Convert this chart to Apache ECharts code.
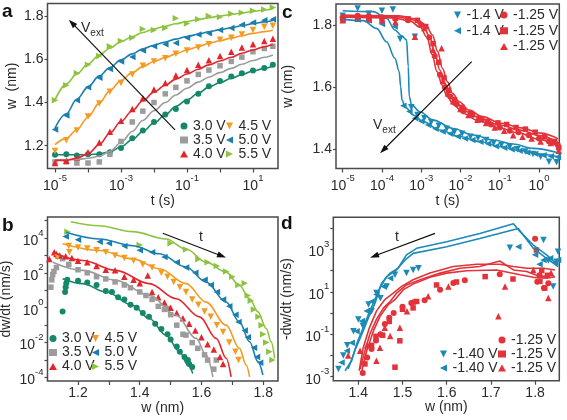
<!DOCTYPE html>
<html><head><meta charset="utf-8">
<script src="https://cdn.jsdelivr.net/npm/echarts@6/dist/echarts.min.js"></script>
<style>html,body{margin:0;padding:0;background:#fff}#c{width:567px;height:420px}</style>
</head><body><div id="c"></div><script>
// ---------------- Panel a : w vs t (growth) ----------------
const A_T = [1e-5,2.2e-5,4.6e-5,1e-4,2.2e-4,4.6e-4,1e-3,2.2e-3,4.6e-3,0.01,0.022,0.046,0.1,0.22,0.46,1,2.2,4.6,10,22,40];
const A_FIT_30 = [1.158,1.158,1.158,1.159,1.162,1.172,1.195,1.228,1.266,1.305,1.343,1.382,1.412,1.443,1.471,1.492,1.512,1.529,1.546,1.558,1.569];
const A_FIT_35 = [1.135,1.135,1.136,1.142,1.151,1.174,1.215,1.266,1.317,1.362,1.4,1.435,1.466,1.494,1.517,1.538,1.558,1.577,1.594,1.609,1.62];
const A_FIT_40 = [1.132,1.132,1.142,1.163,1.205,1.258,1.312,1.362,1.408,1.448,1.48,1.508,1.532,1.554,1.574,1.592,1.609,1.628,1.643,1.658,1.669];
const A_FIT_45 = [1.205,1.234,1.274,1.332,1.397,1.455,1.502,1.538,1.566,1.59,1.608,1.625,1.643,1.658,1.674,1.686,1.698,1.709,1.72,1.728,1.734];
const A_FIT_50 = [1.282,1.348,1.415,1.471,1.523,1.562,1.597,1.625,1.648,1.665,1.68,1.693,1.705,1.716,1.727,1.737,1.746,1.755,1.765,1.773,1.779];
const A_FIT_55 = [1.412,1.485,1.532,1.578,1.62,1.651,1.682,1.705,1.724,1.74,1.753,1.764,1.775,1.784,1.792,1.8,1.807,1.814,1.821,1.828,1.834];
const A_W_30 = [1.158,1.16,1.155,1.16,1.16,1.17,1.19,1.235,1.27,1.31,1.345,1.37,1.405,1.44,1.475,1.5,1.52,1.535,1.548,1.56,1.575];
const A_W_35 = [1.125,1.125,1.12,1.12,1.125,1.16,1.22,1.31,1.36,1.4,1.44,1.47,1.5,1.53,1.55,1.57,1.59,1.61,1.635,1.65,1.66];
const A_W_40 = [1.12,1.13,1.145,1.17,1.215,1.265,1.315,1.37,1.42,1.46,1.49,1.525,1.55,1.575,1.595,1.615,1.635,1.655,1.67,1.685,1.695];
const A_W_45 = [1.175,1.225,1.27,1.335,1.395,1.45,1.49,1.53,1.57,1.59,1.605,1.625,1.64,1.655,1.67,1.69,1.7,1.715,1.735,1.75,1.755];
const A_W_50 = [1.275,1.34,1.41,1.47,1.515,1.555,1.59,1.61,1.64,1.66,1.67,1.675,1.7,1.715,1.72,1.735,1.745,1.76,1.77,1.78,1.785];
const A_W_55 = [1.41,1.48,1.535,1.575,1.615,1.66,1.685,1.7,1.74,1.735,1.745,1.79,1.765,1.785,1.8,1.795,1.81,1.815,1.825,1.83,1.84];
const A_X_TICKS = [1e-5,1e-4,1e-3,1e-2,1e-1,1,10];
const A_X_LABELS = [1e-5,1e-3,1e-1,10];
const A_Y_TICKS = [1.2,1.4,1.6,1.8];

// ---------------- Panel b : dw/dt vs w ----------------
const B_FIT_30 = [[1.15,46],[1.215,24],[1.291,7.9],[1.377,1.38],[1.431,0.24],[1.485,0.027],[1.529,3.0e-3],[1.556,5.2e-4],[1.572,1.7e-4]];
const B_FIT_35 = [[1.118,410],[1.215,138],[1.323,37],[1.431,5.1],[1.518,0.37],[1.583,0.0174],[1.615,1.95e-3],[1.637,1.1e-4]];
const B_FIT_40 = [[1.118,1500],[1.215,510],[1.323,138],[1.431,24],[1.518,3.3],[1.594,0.3],[1.648,0.0174],[1.68,1.26e-3],[1.696,1.1e-4]];
const B_FIT_45 = [[1.15,4600],[1.269,1900],[1.377,630],[1.464,170],[1.55,24],[1.615,2.1],[1.68,0.1],[1.723,4.7e-3],[1.745,5.2e-4],[1.756,1.1e-4]];
const B_FIT_50 = [[1.161,2.1e4],[1.269,8700],[1.377,3600],[1.464,1230],[1.55,214],[1.615,29.5],[1.68,2.1],[1.723,0.155],[1.756,0.0112],[1.783,8.1e-4],[1.799,1.4e-4]];
const B_FIT_55 = [[1.177,8.5e4],[1.269,5.0e4],[1.377,2.3e4],[1.485,8700],[1.55,2300],[1.615,410],[1.68,110],[1.723,19],[1.756,3.3],[1.783,0.58],[1.81,0.065],[1.826,0.011],[1.837,1.26e-3]];
const B_M_30 = [[1.15,0.6],[1.158,8],[1.16,15],[1.162,25],[1.165,40],[1.2,35],[1.23,28],[1.26,20],[1.29,9],[1.31,8],[1.33,4],[1.35,3],[1.37,1.5],[1.39,1.0],[1.41,0.5],[1.43,0.3],[1.45,0.12],[1.47,0.06],[1.49,0.03],[1.5,0.015],[1.52,0.006],[1.53,0.003],[1.545,1.5e-3],[1.556,1e-3],[1.56,6e-4],[1.57,4e-4]];
const B_M_35 = [[1.112,15],[1.115,40],[1.118,80],[1.122,120],[1.13,200],[1.135,900],[1.15,650],[1.17,300],[1.2,150],[1.23,100],[1.26,60],[1.29,45],[1.32,30],[1.35,20],[1.37,14],[1.4,8],[1.42,5],[1.44,3],[1.46,1.2],[1.48,0.8],[1.49,0.9],[1.5,0.4],[1.52,0.1],[1.54,0.03],[1.55,0.027],[1.57,0.01],[1.588,4.7e-3],[1.61,2e-3],[1.62,1e-3],[1.648,1e-3],[1.64,3e-4]];
const B_M_40 = [[1.107,630],[1.123,1500],[1.13,1200],[1.14,1000],[1.16,900],[1.18,700],[1.2,500],[1.23,400],[1.26,250],[1.29,150],[1.32,140],[1.35,60],[1.38,40],[1.4,25],[1.426,70],[1.44,8],[1.46,4],[1.48,2],[1.5,1.0],[1.52,0.5],[1.54,0.25],[1.56,0.12],[1.58,0.05],[1.6,0.02],[1.62,0.008],[1.64,0.004],[1.66,1.5e-3],[1.67,6e-4]];
const B_M_45 = [[1.134,800],[1.172,1500],[1.17,3500],[1.2,2800],[1.23,2500],[1.26,2000],[1.29,1500],[1.32,1000],[1.35,700],[1.38,500],[1.41,300],[1.44,200],[1.47,100],[1.49,60],[1.51,30],[1.53,15],[1.55,8],[1.57,3],[1.59,1.5],[1.61,0.6],[1.63,0.3],[1.65,0.1],[1.67,0.04],[1.69,0.01],[1.71,3e-3],[1.72,1e-3]];
const B_M_50 = [[1.16,1.2e4],[1.2,8000],[1.27,6000],[1.3,5000],[1.35,3500],[1.4,2000],[1.44,1500],[1.48,800],[1.52,400],[1.55,200],[1.58,100],[1.61,40],[1.63,20],[1.65,8],[1.67,3],[1.69,1.2],[1.71,0.4],[1.72,0.15],[1.74,0.05],[1.75,0.02],[1.77,5e-3],[1.78,1.5e-3],[1.79,7e-4]];
const B_M_55 = [[1.166,2.3e4],[1.4,4000],[1.5,5000],[1.55,2200],[1.59,600],[1.62,400],[1.65,250],[1.68,120],[1.7,60],[1.72,20],[1.74,25],[1.75,5],[1.76,2.5],[1.77,0.8],[1.785,0.3],[1.795,0.1],[1.8,0.03],[1.81,0.01],[1.82,3e-3],[1.83,1e-3]];
const B_X_TICKS = [1.2,1.3,1.4,1.5,1.6,1.7,1.8];
const B_X_LABELS = [1.2,1.4,1.6,1.8];
const B_Y_TICKS = [1e-4,1e-3,1e-2,1e-1,1,10,100,1e3,1e4,1e5];
const B_Y_LABELS = [1e-4,1e-2,1,100,1e4];

// ---------------- Panel c : w vs t (shrinking) ----------------
const C_FIT_B1 = [[1e-5,1.818],[3.35e-5,1.814],[7.3e-5,1.789],[1.31e-4,1.746],[2.14e-4,1.693],[2.75e-4,1.65],[2.99e-4,1.602],[3.24e-4,1.559],[3.85e-4,1.537],[6.3e-4,1.51],[1.12e-3,1.489],[2.95e-3,1.462],[9.5e-3,1.441],[0.031,1.425],[0.1,1.409],[0.32,1.396],[1.04,1.385],[3.04,1.376]];
const C_FIT_B2 = [[1e-5,1.846],[6e-5,1.843],[1.32e-4,1.821],[2.14e-4,1.784],[3.2e-4,1.765],[4.24e-4,1.752],[4.68e-4,1.666],[4.95e-4,1.57],[5.68e-4,1.543],[9.2e-4,1.521],[2.02e-3,1.494],[6.5e-3,1.467],[0.021,1.446],[0.068,1.43],[0.219,1.417],[0.703,1.403],[3.04,1.389]];
const C_FIT_R1 = [[1e-5,1.825],[2e-4,1.823],[5.3e-4,1.812],[9.5e-4,1.792],[1.41e-3,1.76],[1.89e-3,1.705],[2.53e-3,1.65],[3.4e-3,1.607],[4.56e-3,1.57],[6.75e-3,1.543],[0.012,1.515],[0.027,1.493],[0.09,1.47],[0.3,1.453],[1.0,1.432],[3.04,1.41]];
const C_FIT_R2 = [[1e-5,1.829],[2.36e-4,1.827],[6.26e-4,1.816],[1.12e-3,1.795],[1.66e-3,1.762],[2.22e-3,1.709],[2.98e-3,1.655],[4e-3,1.612],[5.36e-3,1.575],[7.94e-3,1.548],[0.0142,1.521],[0.031,1.5],[0.1,1.478],[0.322,1.462],[1.04,1.444],[3.04,1.422]];
const C_FIT_R3 = [[1e-5,1.832],[2.76e-4,1.83],[7.3e-4,1.82],[1.31e-3,1.8],[1.94e-3,1.768],[2.6e-3,1.715],[3.49e-3,1.66],[4.68e-3,1.617],[6.27e-3,1.58],[9.3e-3,1.553],[0.0166,1.526],[0.036,1.505],[0.11,1.484],[0.35,1.469],[1.1,1.452],[3.04,1.434]];
const C_M_DN = [[1e-5,1.83],[2.4e-5,1.853],[4.6e-5,1.836],[1e-4,1.846],[1.9e-4,1.85],[2.9e-4,1.755],[5.6e-4,1.535],[6.9e-4,1.762],[8e-4,1.51],[1.2e-3,1.5],[1.8e-3,1.487],[2.8e-3,1.476],[4.5e-3,1.466],[7e-3,1.456],[0.011,1.45],[0.018,1.44],[0.028,1.436],[0.045,1.43],[0.07,1.42],[0.11,1.414],[0.18,1.408],[0.28,1.4],[0.45,1.393],[0.7,1.385],[1.1,1.376],[1.8,1.36],[2.8,1.358]];
const C_M_LT = [[1e-5,1.818],[2.4e-5,1.818],[4.6e-5,1.815],[1e-4,1.803],[2.1e-4,1.795],[3.5e-4,1.54],[5e-4,1.522],[7e-4,1.5],[1e-3,1.49],[1.5e-3,1.478],[2.3e-3,1.466],[3.5e-3,1.457],[5.5e-3,1.45],[8.5e-3,1.441],[0.013,1.435],[0.02,1.43],[0.032,1.424],[0.05,1.418],[0.08,1.41],[0.13,1.405],[0.2,1.4],[0.32,1.395],[0.5,1.39],[0.8,1.386],[1.3,1.381],[2,1.378],[3,1.375]];
const C_M_CI = [[1e-5,1.825],[2.4e-5,1.83],[4.6e-5,1.828],[1e-4,1.825],[2.2e-4,1.82],[4.6e-4,1.815],[1e-3,1.8],[1.6e-3,1.76],[2.2e-3,1.7],[3e-3,1.64],[4e-3,1.6],[5.5e-3,1.57],[8e-3,1.545],[0.012,1.525],[0.02,1.51],[0.035,1.495],[0.06,1.48],[0.1,1.47],[0.18,1.46],[0.3,1.455],[0.55,1.445],[1,1.435],[1.8,1.425],[3,1.415]];
const C_M_SQ = [[1e-5,1.82],[2.4e-5,1.823],[4.6e-5,1.82],[1e-4,1.82],[2.2e-4,1.822],[4.6e-4,1.82],[8e-4,1.815],[1.3e-3,1.795],[2e-3,1.74],[2.8e-3,1.68],[3.8e-3,1.63],[5e-3,1.59],[7e-3,1.56],[0.011,1.535],[0.018,1.515],[0.03,1.5],[0.05,1.49],[0.09,1.485],[0.15,1.48],[0.26,1.47],[0.45,1.465],[0.8,1.455],[1.4,1.44],[2.5,1.425],[3.2,1.405]];
const C_M_TR = [[1e-5,1.815],[2.4e-5,1.82],[4.6e-5,1.818],[1e-4,1.815],[2.2e-4,1.81],[6.9e-4,1.762],[1.2e-3,1.79],[2e-3,1.72],[3.3e-3,1.725],[3.6e-3,1.62],[4.8e-3,1.58],[6.5e-3,1.555],[0.01,1.53],[0.016,1.51],[0.027,1.495],[0.045,1.485],[0.075,1.47],[0.13,1.46],[0.22,1.445],[0.38,1.44],[0.65,1.435],[1.1,1.425],[2,1.42],[3.2,1.395]];
const C_X_TICKS = [1e-5,1e-4,1e-3,1e-2,1e-1,1];
const C_Y_TICKS = [1.4,1.6,1.8];

// ---------------- Panel d : -dw/dt vs w ----------------
const D_FIT_B1 = [[1.37,1.9e-3],[1.385,5.6e-3],[1.396,0.034],[1.411,0.2],[1.426,1.23],[1.441,6.2],[1.453,26],[1.472,76],[1.49,129],[1.509,550],[1.532,1120],[1.6,2300],[1.675,5600],[1.751,1.6e4],[1.766,6800],[1.796,1600],[1.826,550],[1.852,186]];
const D_FIT_B2 = [[1.377,2.3e-3],[1.392,0.0166],[1.408,0.1],[1.423,0.6],[1.438,3.0],[1.449,15],[1.464,52],[1.483,91],[1.506,316],[1.524,646],[1.6,1320],[1.675,3240],[1.762,9550],[1.796,1120],[1.826,380],[1.852,155]];
const D_FIT_R1 = [[1.404,2.3e-3],[1.415,0.0166],[1.426,0.1],[1.441,0.5],[1.457,1.74],[1.472,3.5],[1.487,8.7],[1.509,21],[1.54,37],[1.585,76],[1.63,129],[1.675,155],[1.72,282],[1.751,107],[1.781,91],[1.811,52],[1.834,59]];
const D_FIT_R2 = [[1.408,1.9e-3],[1.419,0.0166],[1.434,0.14],[1.449,0.7],[1.468,2.5],[1.483,4.3],[1.502,12.6],[1.524,23],[1.562,48],[1.6,76],[1.645,98],[1.713,107],[1.766,63],[1.796,48],[1.826,44],[1.845,52]];
const D_FIT_R3 = [[1.402,1.9e-3],[1.411,0.023],[1.425,0.2],[1.441,1.23],[1.46,4.3],[1.479,8.7],[1.498,18],[1.524,37],[1.562,76],[1.615,155],[1.668,200],[1.72,200],[1.751,155],[1.781,129],[1.819,129],[1.845,107]];
const D_M_DN = [[1.355,2.3e-3],[1.366,0.01],[1.375,0.03],[1.389,0.14],[1.4,0.5],[1.41,0.25],[1.423,2.5],[1.43,1.2],[1.441,8.7],[1.45,5],[1.464,18],[1.483,63],[1.509,76],[1.524,107],[1.536,129],[1.743,1200],[1.819,2750],[1.83,300],[1.841,18],[1.849,263],[1.852,776]];
const D_M_LT = [[1.362,4.7e-3],[1.374,0.0166],[1.385,0.04],[1.396,0.14],[1.408,0.42],[1.419,1.23],[1.43,3.5],[1.441,7.4],[1.457,18],[1.472,44],[1.762,1320],[1.8,550],[1.81,200],[1.819,316],[1.834,380],[1.845,250],[1.852,316]];
const D_M_CI = [[1.41,1.5e-3],[1.42,0.008],[1.43,0.02],[1.44,0.05],[1.45,0.1],[1.46,0.3],[1.47,0.6],[1.48,1],[1.5,2],[1.52,3],[1.55,4],[1.585,12.6],[1.615,26],[1.641,35],[1.72,68],[1.8,3200],[1.805,30],[1.81,60],[1.82,15],[1.83,25]];
const D_M_SQ = [[1.415,0.004],[1.43,0.03],[1.44,0.08],[1.455,0.09],[1.47,0.4],[1.483,2.8e-3],[1.494,0.049],[1.5,1.5],[1.524,1.74],[1.532,3.5],[1.577,21],[1.622,29],[1.687,52],[1.75,40],[1.803,930],[1.811,31],[1.822,15],[1.828,60],[1.815,100]];
const D_M_TR = [[1.377,0.01],[1.404,0.0166],[1.42,0.03],[1.441,5.6e-3],[1.449,0.023],[1.46,0.2],[1.472,0.083],[1.494,0.2],[1.51,1.2],[1.524,3.5],[1.558,6.2],[1.604,18],[1.717,0.7],[1.732,18],[1.796,107],[1.83,5.1],[1.836,80]];
const D_X_TICKS = [1.4,1.5,1.6,1.7,1.8];
const D_Y_TICKS = [1e-3,1e-2,1e-1,1,10,100,1e3,1e4];
const D_Y_LABELS = [1e-3,1e-1,10,1e3];

// ---------------- styling ----------------
const FONT = '"Liberation Sans", Arial, Helvetica, sans-serif';
const TXT = '#2a2a2a';
const FRAME = '#4a4a4a';
const COL = {v30:'#168769', v35:'#9c9c9c', v40:'#e2262c', v45:'#f49b22', v50:'#1b7fae', v55:'#8dc43f', n14:'#1d8ab6', n125:'#e3323a'};
const SYM = {circle:'circle', square:'rect', up:'triangle', down:'path://M0,0L10,0L5,10Z', left:'path://M10,0L10,10L0,5Z', right:'path://M0,0L10,5L0,10Z'};

const zip = (xs, ys) => xs.map((x, i) => [x, ys[i]]);
function scat(name, data, sym, color, g) {
  const size = sym === 'square' ? 5.5 : (sym === 'circle' ? 6 : 6.5);
  return {type:'scatter', name, data, symbol:SYM[sym], symbolSize:size, itemStyle:{color, opacity:1},
    xAxisIndex:g, yAxisIndex:g, z:2, silent:true, clip:true};
}
function fit(data, color, g, smooth, extra) {
  return Object.assign({type:'line', data, symbol:'none', showSymbol:false,
    lineStyle:{color, width:1.6}, smooth: smooth ? 0.35 : false, smoothMonotone:'x',
    xAxisIndex:g, yAxisIndex:g, z:3, silent:true, clip:true}, extra || {});
}
function arrow(from, to) {
  return {markLine:{silent:true, symbol:['none','triangle'], symbolSize:[6,9], label:{show:false},
    lineStyle:{color:'#111', width:1.2, type:'solid'}, itemStyle:{color:'#111'}, animation:false,
    data:[[{coord:from},{coord:to}]]}};
}
const RICH = {
  b:{fontSize:14, fontFamily:FONT, color:TXT, verticalAlign:'bottom'},
  e:{fontSize:9.5, fontFamily:FONT, color:TXT, verticalAlign:'bottom', padding:[0,0,10,0]}
};
const logFmt = v => '{b|10}{e|' + Math.round(Math.log10(v)) + '}';
const linFmt = v => v.toFixed(1);
const tickStyle = {lineStyle:{color:FRAME, width:1.2}};

function xAxis(g, type, min, max, ticks, labels, name, gap) {
  return {type, gridIndex:g, min, max, logBase:10,
    axisLine:{show:false}, splitLine:{show:false},
    axisTick:Object.assign({show:true, inside:false, length:4, customValues:ticks}, tickStyle),
    axisLabel:{customValues:labels, margin:5, formatter: type === 'log' ? logFmt : linFmt,
      rich:RICH, fontSize:14, color:TXT, fontFamily:FONT},
    name, nameLocation:'middle', nameGap:gap, nameTextStyle:{fontSize:14, color:TXT, fontFamily:FONT}};
}
function yAxis(g, type, min, max, ticks, labels, name, gap) {
  return {type, gridIndex:g, min, max, logBase:10,
    axisLine:{show:false}, splitLine:{show:false},
    axisTick:Object.assign({show:true, inside:false, length:3, customValues:ticks}, tickStyle),
    axisLabel:{customValues:labels, margin:4, formatter: type === 'log' ? logFmt : linFmt,
      rich:RICH, fontSize:14, color:TXT, fontFamily:FONT},
    name, nameLocation:'middle', nameGap:gap, nameTextStyle:{fontSize:14, color:TXT, fontFamily:FONT}};
}
const gridBase = {show:true, borderColor:FRAME, borderWidth:1.5, backgroundColor:'transparent', containLabel:false, outerBoundsMode:'none'};
const legendFmt = n => n.replace(/#.*/, '');
function legend(left, top, gap, data) {
  return {left, top, orient:'vertical', itemWidth:8, itemHeight:7, itemGap:gap, padding:0,
    selectedMode:false, data, formatter:legendFmt,
    textStyle:{fontSize:14, color:TXT, fontFamily:FONT}};
}

const series = [
  // a
  scat('3.0 V', zip(A_T, A_W_30), 'circle', COL.v30, 0),
  scat('3.5 V', zip(A_T, A_W_35), 'square', COL.v35, 0),
  scat('4.0 V', zip(A_T, A_W_40), 'up', COL.v40, 0),
  scat('4.5 V', zip(A_T, A_W_45), 'down', COL.v45, 0),
  scat('5.0 V', zip(A_T, A_W_50), 'left', COL.v50, 0),
  scat('5.5 V', zip(A_T, A_W_55), 'right', COL.v55, 0),
  fit(zip(A_T, A_FIT_30), COL.v30, 0, true, arrow([0.0433, 1.273], [3.27e-5, 1.768])),
  fit(zip(A_T, A_FIT_35), COL.v35, 0, true),
  fit(zip(A_T, A_FIT_40), COL.v40, 0, true),
  fit(zip(A_T, A_FIT_45), COL.v45, 0, true),
  fit(zip(A_T, A_FIT_50), COL.v50, 0, true),
  fit(zip(A_T, A_FIT_55), COL.v55, 0, true),
  // b
  scat('3.0 V#b', B_M_30, 'circle', COL.v30, 1),
  scat('3.5 V#b', B_M_35, 'square', COL.v35, 1),
  scat('4.0 V#b', B_M_40, 'up', COL.v40, 1),
  scat('4.5 V#b', B_M_45, 'down', COL.v45, 1),
  scat('5.0 V#b', B_M_50, 'left', COL.v50, 1),
  scat('5.5 V#b', B_M_55, 'right', COL.v55, 1),
  fit(B_FIT_30, COL.v30, 1, true, arrow([1.4746, 1.86e4], [1.6658, 929])),
  fit(B_FIT_35, COL.v35, 1, true),
  fit(B_FIT_40, COL.v40, 1, true),
  fit(B_FIT_45, COL.v45, 1, true),
  fit(B_FIT_50, COL.v50, 1, true),
  fit(B_FIT_55, COL.v55, 1, true),
  // c
  scat('-1.4 V', C_M_DN, 'down', COL.n14, 2),
  scat('-1.4 V#2', C_M_LT, 'left', COL.n14, 2),
  scat('-1.25 V', C_M_CI, 'circle', COL.n125, 2),
  scat('-1.25 V#2', C_M_SQ, 'square', COL.n125, 2),
  scat('-1.25 V#3', C_M_TR, 'up', COL.n125, 2),
  fit(C_FIT_B1, COL.n14, 2, true, arrow([0.0193, 1.682], [1.08e-4, 1.3977])),
  fit(C_FIT_B2, COL.n14, 2, true),
  fit(C_FIT_R1, COL.n125, 2, true),
  fit(C_FIT_R2, COL.n125, 2, true),
  fit(C_FIT_R3, COL.n125, 2, true),
  // d
  scat('-1.40 V', D_M_DN, 'down', COL.n14, 3),
  scat('-1.40 V#2', D_M_LT, 'left', COL.n14, 3),
  scat('-1.25 V#d1', D_M_CI, 'circle', COL.n125, 3),
  scat('-1.25 V#d2', D_M_SQ, 'square', COL.n125, 3),
  scat('-1.25 V#d3', D_M_TR, 'up', COL.n125, 3),
  fit(D_FIT_B1, COL.n14, 3, false, arrow([1.5735, 5690], [1.4362, 483])),
  fit(D_FIT_B2, COL.n14, 3, false),
  fit(D_FIT_R1, COL.n125, 3, false),
  fit(D_FIT_R2, COL.n125, 3, false),
  fit(D_FIT_R3, COL.n125, 3, false)
];

const option = {
  animation:false,
  backgroundColor:'#fff',
  textStyle:{fontFamily:FONT},
  grid:[
    Object.assign({left:47.5, top:3.5, width:230.5, height:165}, gridBase),
    Object.assign({left:47.5, top:217, width:230.5, height:164}, gridBase),
    Object.assign({left:336, top:4, width:223.3, height:164.5}, gridBase),
    Object.assign({left:333.3, top:217.3, width:226, height:163.4}, gridBase)
  ],
  xAxis:[
    xAxis(0, 'log', 5.93e-6, 57.3, A_X_TICKS, A_X_LABELS, 't (s)', 26),
    xAxis(1, 'value', 1.1011, 1.848, B_X_TICKS, B_X_LABELS, 'w (nm)', 19),
    xAxis(2, 'log', 6.75e-6, 3.29, C_X_TICKS, C_X_TICKS, 't (s)', 26),
    xAxis(3, 'value', 1.3434, 1.8548, D_X_TICKS, D_X_TICKS, 'w (nm)', 19)
  ],
  yAxis:[
    yAxis(0, 'value', 1.0946, 1.858, A_Y_TICKS, A_Y_TICKS, 'w  (nm)', 28),
    yAxis(1, 'log', 6.31e-5, 1.585e5, B_Y_TICKS, B_Y_LABELS, 'dw/dt (nm/s)', 34),
    yAxis(2, 'value', 1.3382, 1.8676, C_Y_TICKS, C_Y_TICKS, 'w (nm)', 41),
    yAxis(3, 'log', 6.46e-4, 3.24e4, D_Y_TICKS, D_Y_LABELS, '-dw/dt (nm/s)', 39)
  ],
  legend:[
    legend(180, 119, 0, ['3.0 V','3.5 V','4.0 V']),
    legend(226, 119, 0, ['4.5 V','5.0 V','5.5 V']),
    legend(49, 331.5, 0, ['3.0 V#b','3.5 V#b','4.0 V#b']),
    legend(92, 331.5, 0, ['4.5 V#b','5.0 V#b','5.5 V#b']),
    legend(454, 8, 1.8, ['-1.4 V','-1.4 V#2']),
    legend(500, 8, 1.8, ['-1.25 V','-1.25 V#2','-1.25 V#3']),
    legend(440, 347, 0, ['-1.40 V','-1.40 V#2']),
    legend(498, 333, 0, ['-1.25 V#d1','-1.25 V#d2','-1.25 V#d3'])
  ],
  graphic:[
    {type:'text', left:2, top:2, style:{text:'a', fontSize:19, fontWeight:'bold', fontFamily:FONT, fill:'#111'}},
    {type:'text', left:2, top:216, style:{text:'b', fontSize:19, fontWeight:'bold', fontFamily:FONT, fill:'#111'}},
    {type:'text', left:282, top:3, style:{text:'c', fontSize:19, fontWeight:'bold', fontFamily:FONT, fill:'#111'}},
    {type:'text', left:281, top:214, style:{text:'d', fontSize:19, fontWeight:'bold', fontFamily:FONT, fill:'#111'}},
    {type:'text', left:81, top:21, style:{text:'{v|V}{s|ext}', rich:{v:{fontSize:14, fontFamily:FONT, fill:TXT, verticalAlign:'top'}, s:{fontSize:10, fontFamily:FONT, fill:TXT, verticalAlign:'top', padding:[7,0,0,0]}}}},
    {type:'text', left:373, top:118, style:{text:'{v|V}{s|ext}', rich:{v:{fontSize:14, fontFamily:FONT, fill:TXT, verticalAlign:'top'}, s:{fontSize:10, fontFamily:FONT, fill:TXT, verticalAlign:'top', padding:[7,0,0,0]}}}},
    {type:'text', left:199, top:230, style:{text:'t', fontSize:14, fontFamily:FONT, fill:TXT}},
    {type:'text', left:395, top:230, style:{text:'t', fontSize:14, fontFamily:FONT, fill:TXT}}
  ],
  series
};
const chart = echarts.init(document.getElementById('c'), null, {renderer:'canvas'});
chart.setOption(option);
</script></body></html>
